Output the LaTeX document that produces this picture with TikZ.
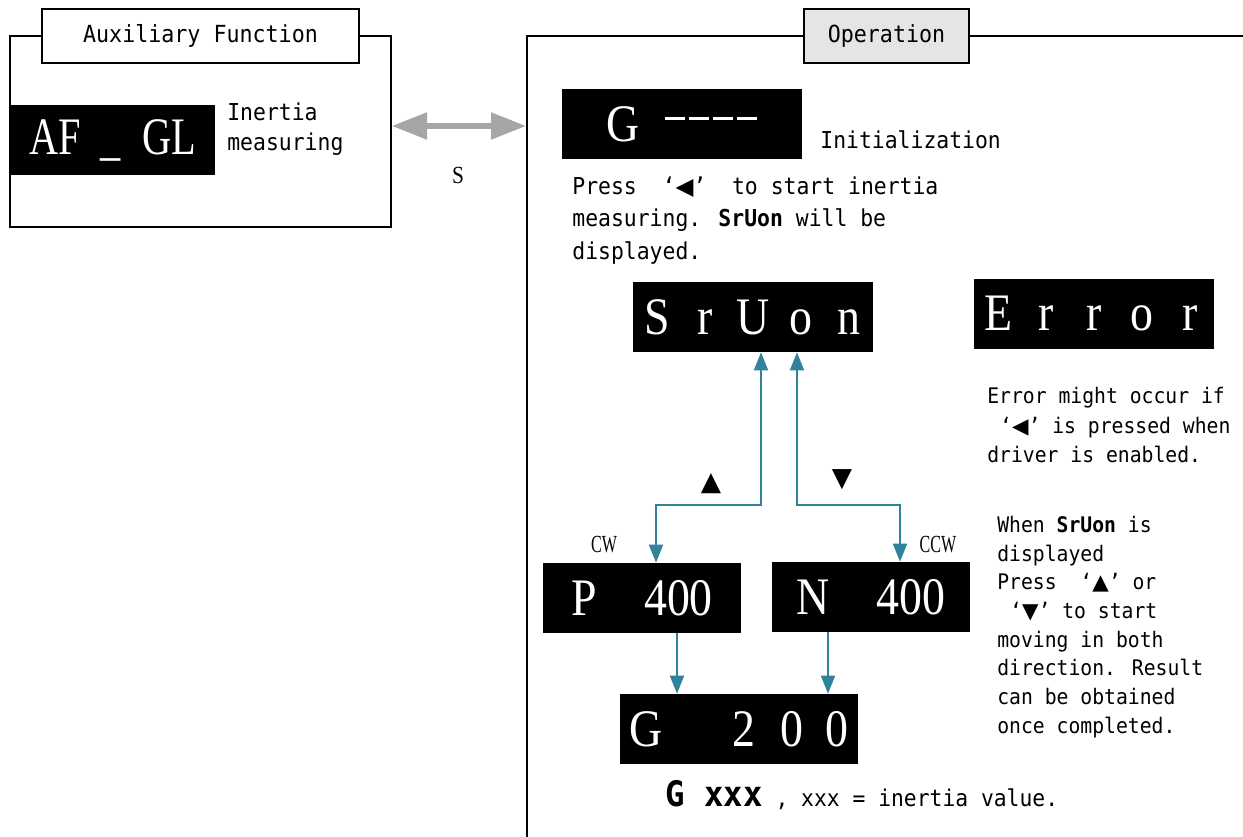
\documentclass[tikz,border=0pt]{standalone}
\usepackage{fontspec}
\usepackage{graphicx}
\usetikzlibrary{arrows.meta}
\setmainfont{DejaVu Sans Mono}[FakeStretch=0.92]
\newfontfamily\segfont{Liberation Serif}[FakeStretch=0.87]
\newfontfamily\symfont{DejaVu Sans}
\definecolor{flowblue}{RGB}{49,131,155}
\newcommand\dg[1]{\makebox[0.96cm]{#1}}
\newcommand\dsh{\rule[0.42cm]{0.4cm}{0.06cm}}

\tikzset{
  lcdbox/.style={fill=black, text=white, inner sep=0pt, minimum height=1.4cm, font=\segfont\fontsize{30}{30}\selectfont},
  tab/.style={draw, line width=0.8pt, minimum height=1.08cm, inner sep=0pt, font=\fontsize{13.4}{14}\selectfont},
  note/.style={inner sep=0pt, align=left, anchor=north west},
  flow/.style={draw=flowblue, line width=1.1pt},
}

\begin{document}
\begin{tikzpicture}[x=0.02cm, y=-0.02cm, >={Triangle[length=0.36cm,width=0.28cm]}]
\useasboundingbox (0,0) rectangle (1243,837);
% frames
\draw[line width=0.8pt] (10,36) rectangle (391,227);
\draw[line width=0.8pt] (1243,36) -- (527,36) -- (527,837);
\node[tab, fill=white, minimum width=6.34cm] (aux) at (200.5,36) {Auxiliary Function};
\node[tab, fill=black!10, minimum width=3.3cm] (op) at (886.5,36) {Operation};

% displays
\node[lcdbox, minimum width=4.1cm] (afgl) at (112.5,140) {\scalebox{0.88}[1]{AF\hspace{0.46cm}\_\hspace{0.48cm}GL}};
\node[lcdbox, minimum width=4.8cm] (ginit) at (682,124) {G\hspace{0.5cm}\dsh\hspace{0.08cm}\dsh\hspace{0.08cm}\dsh\hspace{0.08cm}\dsh};
\node[lcdbox, minimum width=4.8cm] (sruon) at (753,317) {\dg{S}\dg{r}\dg{U}\dg{o}\dg{n}};
\node[lcdbox, minimum width=4.8cm] (err) at (1094,314) {\dg{E}\dg{r}\dg{r}\dg{o}\dg{r}};
\node[lcdbox, minimum width=3.96cm] (pcw) at (642,598) {P\hspace{0.95cm}400};
\node[lcdbox, minimum width=3.96cm] (nccw) at (871,597) {N\hspace{0.95cm}400};
\node[lcdbox, minimum width=4.76cm] (gres) at (739,729) {G\hspace{1.4cm}2\hspace{0.5cm}0\hspace{0.46cm}0};

% labels
\node[note, font=\fontsize{13.25}{17.6}\selectfont] (inert) at (227,102) {Inertia\\measuring};
\node[anchor=west, inner sep=0pt, font=\fontsize{13.25}{14}\selectfont] (initlbl) at (820,140) {Initialization};
\node[note, font=\fontsize{13.25}{18.5}\selectfont] (presslbl) at (572,176) {Press\ \ ‘{\symfont ◀}’\ \ to start inertia\\measuring. \textbf{SrUon} will be\\displayed.};
\node[note, font=\fontsize{12.2}{16.8}\selectfont] (errlbl) at (987,387) {Error might occur if\\\hspace*{0.6em}‘{\symfont ◀}’ is pressed when\\driver is enabled.};
\node[note, font=\fontsize{12.2}{16.3}\selectfont] (movelbl) at (997,516) {When \textbf{SrUon} is\\displayed\\Press\ \ ‘{\symfont ▲}’ or\\\hspace*{0.6em}‘{\symfont ▼}’ to start\\moving in both\\direction. Result\\can be obtained\\once completed.};
\node[anchor=west, inner sep=0pt, font=\fontsize{13.2}{14}\selectfont] (capt) at (665,795) {{\fontsize{20}{20}\selectfont\textbf{G xxx}} , xxx = inertia value.};
\node[font=\segfont\fontsize{14}{14}\selectfont] (skey) at (458,175) {S};
\node[font=\segfont\fontsize{14}{14}\selectfont] (cwlbl) at (604,545) {\scalebox{0.75}[1]{CW}};
\node[font=\segfont\fontsize{14}{14}\selectfont] (ccwlbl) at (938,545) {\scalebox{0.75}[1]{CCW}};
\node[font=\symfont\fontsize{15}{15}\selectfont] (uplbl) at (711,484) {▲};
\node[font=\symfont\fontsize{15}{15}\selectfont] (dnlbl) at (842,480) {▼};

% connectors
\coordinate (sl) at (392,126);
\coordinate (sr) at (526,126);
\draw[black!35, line width=3pt, {Triangle[length=0.7cm,width=0.52cm]}-{Triangle[length=0.7cm,width=0.52cm]}] (sl) -- (sr);
\coordinate (jl) at (761,505);
\coordinate (jr) at (797,505);
\draw[flow, <->] (sruon.south -| jl) -- (jl) -| ([xshift=0.28cm]pcw.north);
\draw[flow, <->] (sruon.south -| jr) -- (jr) -| ([xshift=0.58cm]nccw.north);
\draw[flow, ->] ([xshift=0.7cm]pcw.south) -- ([xshift=0.7cm]pcw.south |- gres.north);
\draw[flow, ->] ([xshift=-0.86cm]nccw.south) -- ([xshift=-0.86cm]nccw.south |- gres.north);
\end{tikzpicture}
\end{document}
